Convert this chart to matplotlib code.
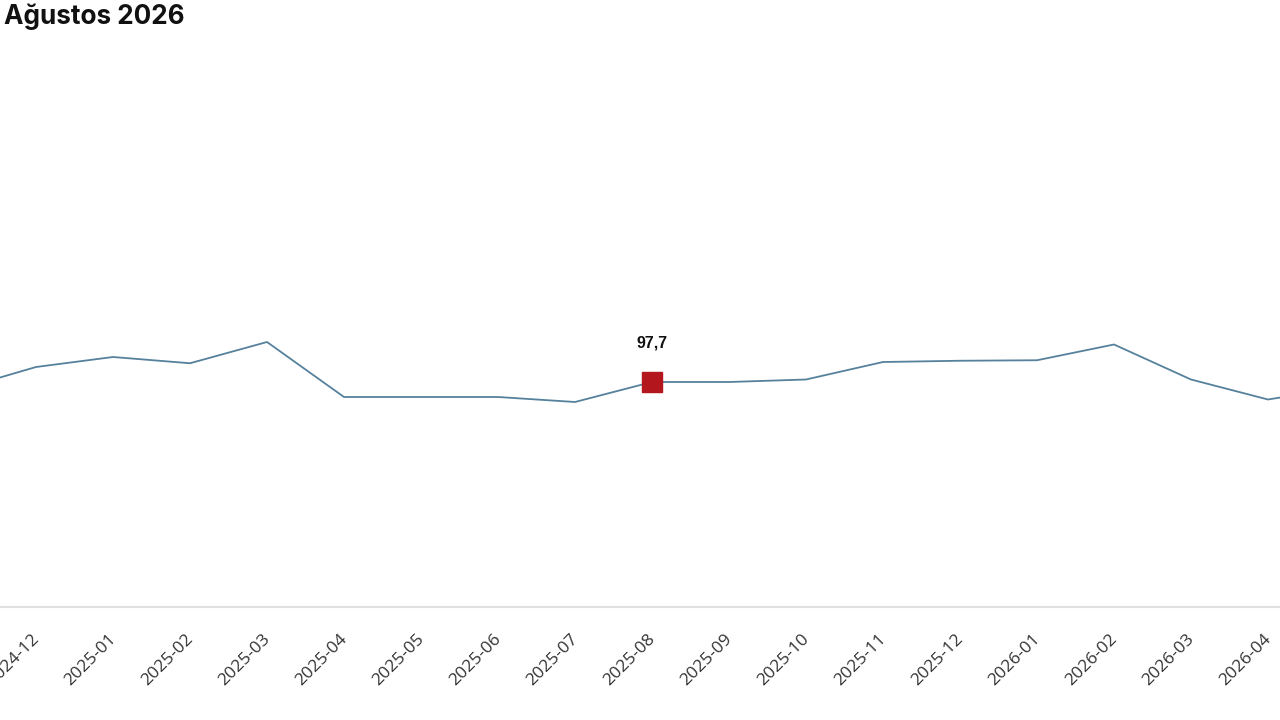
import matplotlib
matplotlib.use("Agg")
import matplotlib.pyplot as plt
from matplotlib.transforms import ScaledTranslation

months = ["2024-11", "2024-12", "2025-01", "2025-02", "2025-03", "2025-04", "2025-05",
          "2025-06", "2025-07", "2025-08", "2025-09", "2025-10", "2025-11", "2025-12",
          "2026-01", "2026-02", "2026-03", "2026-04", "2026-05"]
values = [97.4, 98.3, 98.7, 98.45, 99.3, 97.1, 97.1,
          97.1, 96.9, 97.7, 97.7, 97.8, 98.5, 98.55,
          98.57, 99.2, 97.8, 97.0, 97.5]
highlight_month = "2025-08"
highlight_label = "97,7"
title = "Ağustos 2026"

fig = plt.figure(figsize=(12.8, 7.2), dpi=100)
ax = fig.add_axes([0.0, 113 / 720, 1.0, 567 / 720])

x = list(range(len(months)))
ax.plot(x, values, color="#56819c", linewidth=1.3, zorder=2)

hi = months.index(highlight_month)
ax.plot([hi], [values[hi]], marker="s", markersize=14.4, color="#b3161c",
        linestyle="none", zorder=3)
ax.annotate(highlight_label, (hi, values[hi]), xytext=(0, 28), textcoords="offset points",
            ha="center", va="center", fontsize=11.5, fontweight="bold",
            family=["Liberation Sans", "DejaVu Sans"], color="#111111")

ax.set_xticks(x)
ax.set_xticklabels(months, rotation=45, ha="right", va="top", rotation_mode="anchor",
                   fontsize=12.5, family=["Open Sans", "DejaVu Sans"], color="#333333")
ax.tick_params(axis="x", length=0, pad=17.5)
shift = ScaledTranslation(-0.05, 0, fig.dpi_scale_trans)
for lbl in ax.get_xticklabels():
    lbl.set_transform(lbl.get_transform() + shift)
ax.set_yticks([])
ax.set_xlim(1 - 36 / 77, 17 + 12 / 77)
ax.set_ylim(88.7, 111.38)
for s in ["top", "left", "right"]:
    ax.spines[s].set_visible(False)
ax.spines["bottom"].set_color("#e0e0e0")
ax.spines["bottom"].set_linewidth(1.5)

fig.text(0.003, 0.995, title, ha="left", va="top", fontsize=18.8, fontweight="bold",
         family=["Inter", "DejaVu Sans"], color="#111111")

fig.savefig("out.png", dpi=100)
